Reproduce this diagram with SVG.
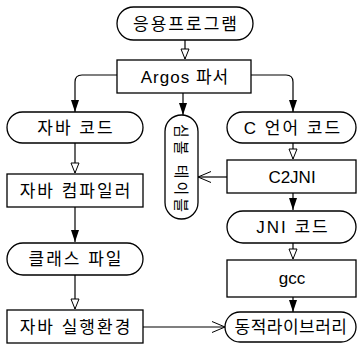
<svg xmlns="http://www.w3.org/2000/svg" width="360" height="345" viewBox="0 0 360 345">
<style>
.shp{fill:#fff;stroke:#000;stroke-width:1.3}
.t{font-family:"Liberation Sans","Noto Sans CJK KR",sans-serif;font-size:17px;text-anchor:middle;dominant-baseline:central;fill:#000}
.k{letter-spacing:2px}
.ln{fill:none;stroke:#000;stroke-width:1.2}
</style>
<defs>
<marker id="fill" markerUnits="userSpaceOnUse" markerWidth="14" markerHeight="10" refX="12" refY="5" orient="auto"><path d="M0,1 L12,5 L0,9 z" fill="#000"/></marker>
<marker id="hollow" markerUnits="userSpaceOnUse" markerWidth="14" markerHeight="10" refX="11" refY="5" orient="auto"><path d="M1,1 L11,5 L1,9 z" fill="#fff" stroke="#000" stroke-width="1"/></marker>
<marker id="vee" markerUnits="userSpaceOnUse" markerWidth="14" markerHeight="12" refX="13" refY="6" orient="auto"><path d="M0,0.5 L13,6 L0,11.5" fill="none" stroke="#000" stroke-width="1"/></marker>
</defs>
<g id="connectors">
<path class="ln" d="M185,40 V59" marker-end="url(#hollow)"/>
<path class="ln" d="M117,75 H82 Q75,75 75,82 V112" marker-end="url(#fill)"/>
<path class="ln" d="M183,93 V115" marker-end="url(#fill)"/>
<path class="ln" d="M251,75 H286 Q293,75 293,82 V112" marker-end="url(#fill)"/>
<path class="ln" d="M75,143 V173" marker-end="url(#hollow)"/>
<path class="ln" d="M75,207 V242" marker-end="url(#fill)"/>
<path class="ln" d="M75,275 V309" marker-end="url(#hollow)"/>
<path class="ln" d="M293,143 V159" marker-end="url(#hollow)"/>
<path class="ln" d="M227,177 H198" marker-end="url(#vee)"/>
<path class="ln" d="M293,193 V210" marker-end="url(#fill)"/>
<path class="ln" d="M293,243 V259" marker-end="url(#hollow)"/>
<path class="ln" d="M293,297 V312" marker-end="url(#fill)"/>
<path class="ln" d="M143,327 H225" marker-end="url(#vee)"/>
</g>
<g id="app"><rect class="shp" x="117" y="7" width="136" height="33" rx="16.5"/><text class="t k" x="186" y="24">응용프로그램</text></g>
<g id="argos"><rect class="shp" x="117" y="60" width="134" height="33"/><text class="t" style="letter-spacing:1px" x="185" y="77">Argos 파서</text></g>
<g id="javacode"><rect class="shp" x="7" y="112" width="136" height="31" rx="15.5"/><text class="t k" x="76" y="128">자바 코드</text></g>
<g id="symtab"><rect class="shp" x="165" y="115" width="33" height="104" rx="16.5"/><text class="t" style="font-size:15px;letter-spacing:3px" transform="translate(181.5,168) rotate(90)" x="1.5" y="0">심볼 테이블</text></g>
<g id="ccode"><rect class="shp" x="227" y="112" width="129" height="31" rx="15.5"/><text class="t k" x="293" y="128">C 언어 코드</text></g>
<g id="javac"><rect class="shp" x="7" y="174" width="136" height="33"/><text class="t k" x="76" y="191">자바 컴파일러</text></g>
<g id="c2jni"><rect class="shp" x="227" y="160" width="129" height="33"/><text class="t" x="292" y="177">C2JNI</text></g>
<g id="jnicode"><rect class="shp" x="227" y="211" width="129" height="32" rx="16"/><text class="t k" x="293" y="227">JNI 코드</text></g>
<g id="classfile"><rect class="shp" x="7" y="243" width="136" height="32" rx="16"/><text class="t k" x="76" y="259">클래스 파일</text></g>
<g id="gcc"><rect class="shp" x="227" y="260" width="129" height="37" /><text class="t" x="292" y="278">gcc</text></g>
<g id="jre"><rect class="shp" x="7" y="310" width="136" height="33"/><text class="t k" x="76" y="327">자바 실행환경</text></g>
<g id="dynlib"><rect class="shp" x="225" y="312" width="131" height="30" rx="15"/><text class="t" style="letter-spacing:0.5px" x="291" y="327">동적라이브러리</text></g>
</svg>
